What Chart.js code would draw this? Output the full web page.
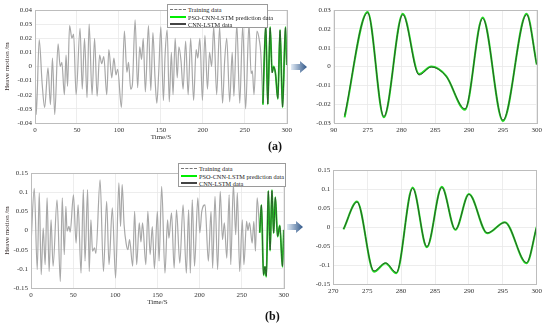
<!DOCTYPE html>
<html>
<head>
<meta charset="utf-8">
<script src="https://cdn.jsdelivr.net/npm/chart.js@4/dist/chart.umd.min.js"></script>
<style>
  html, body { margin: 0; padding: 0; background: #fff; }
  #wrap { position: relative; width: 550px; height: 325px; overflow: hidden; font-family: 'Liberation Serif', 'Times New Roman', serif; }
  canvas { position: absolute; }
  .legend { position: absolute; background: #fff; border: 1px solid #9a9a9a; box-sizing: border-box; font-size: 6.3px; color: #222; }
  .legend .row { position: absolute; left: 0; right: 0; height: 7px; line-height: 7px; white-space: nowrap; }
  .legend .smp { position: absolute; top: 3px; }
  .legend .txt { position: absolute; top: 0; }
  .cap { position: absolute; font-weight: bold; font-size: 12px; color: #111; }
  svg { position: absolute; }
</style>
</head>
<body>
<div id="wrap">
  <canvas id="cAL" width="295" height="145" style="left:0;top:0"></canvas>
  <canvas id="cAR" width="250" height="145" style="left:295px;top:0"></canvas>
  <canvas id="cBL" width="292" height="150" style="left:0;top:160px"></canvas>
  <canvas id="cBR" width="250" height="150" style="left:295px;top:160px"></canvas>

  <div class="legend" style="left:167px;top:4px;width:101px;height:24px">
    <div class="row" style="top:1px"><span class="smp" style="left:2px;width:16px;border-top:1px dashed #777"></span><span class="txt" style="left:20px">Training data</span></div>
    <div class="row" style="top:8.5px"><span class="smp" style="left:2px;width:16px;top:2px;height:2.5px;background:#00ee00"></span><span class="txt" style="left:20px">PSO-CNN-LSTM prediction data</span></div>
    <div class="row" style="top:16px"><span class="smp" style="left:2px;width:16px;top:2px;height:2px;background:#444"></span><span class="txt" style="left:20px">CNN-LSTM data</span></div>
  </div>
  <div class="legend" style="left:178px;top:163px;width:108px;height:24px">
    <div class="row" style="top:1px"><span class="smp" style="left:2px;width:16px;border-top:1px dashed #777"></span><span class="txt" style="left:20px">Training data</span></div>
    <div class="row" style="top:8.5px"><span class="smp" style="left:2px;width:16px;top:2px;height:2.5px;background:#00ee00"></span><span class="txt" style="left:20px">PSO-CNN-LSTM prediction data</span></div>
    <div class="row" style="top:16px"><span class="smp" style="left:2px;width:16px;top:2px;height:2px;background:#444"></span><span class="txt" style="left:20px">CNN-LSTM data</span></div>
  </div>

  <svg width="20" height="16" style="left:290px;top:59px">
    <defs><linearGradient id="ga" x1="0" x2="1" y1="0" y2="0"><stop offset="0" stop-color="#e3ecf6"/><stop offset="1" stop-color="#2f5688"/></linearGradient></defs>
    <path d="M1 5 H10 V2 L17 8 L10 14 V11 H1 Z" fill="url(#ga)"/>
  </svg>
  <svg width="20" height="16" style="left:286px;top:219px">
    <defs><linearGradient id="gb" x1="0" x2="1" y1="0" y2="0"><stop offset="0" stop-color="#e3ecf6"/><stop offset="1" stop-color="#2f5688"/></linearGradient></defs>
    <path d="M1 5 H10 V2 L17 8 L10 14 V11 H1 Z" fill="url(#gb)"/>
  </svg>

  <div class="cap" style="left:268px;top:139px">(a)</div>
  <div class="cap" style="left:265px;top:309px">(b)</div>
</div>
<script>
// ---------- (a) data ----------
const trainA_t = [0,1.5,5,8.5,11.5,15.5,18.4,20.8,23.5,27.5,30,32,35,37,38.8,41.2,44,46,49,53.7,56.3,59,62,64.5,68,71,74,77,79.5,82,85.5,88,91.5,94,96.5,98.5,103,106.5,109.5,111.5,114,116,119.3,122.3,124.8,127,129,131.5,135.2,138,140.5,143,145.2,147.5,150,153,155,157.5,160,162.5,164.5,167,169.5,171.5,174,176.5,179.5,182.5,185.5,189,192,194,196.5,199.5,202.5,205.5,208,210.5,213,216.5,220,223.5,226,228.5,232,235,237,240.5,244,247.5,251,255,257.5,259,261,264.5,267.5,269,271.6];
const trainA_v = [0,-0.034,0.019,-0.012,-0.029,-0.001,-0.027,0.006,-0.034,0.016,0.0,0.003,-0.02,0.008,-0.014,0.029,0.02,0.023,-0.02,0.027,-0.016,0.02,-0.022,0.03,-0.02,0.02,-0.021,0.008,0.002,0.007,-0.02,0.012,-0.008,0.006,-0.006,-0.002,-0.029,0.025,-0.004,0.003,-0.016,-0.013,0.033,-0.015,0.014,0.005,0.02,-0.018,0.029,-0.017,0.024,-0.008,-0.026,-0.003,0.028,-0.024,0.008,0.026,-0.025,0.01,-0.02,0.02,-0.008,0.014,0.004,-0.016,0.018,-0.02,0.02,-0.024,0.012,0.006,0.02,-0.024,0.022,-0.016,0.01,0.0,0.028,-0.02,0.028,-0.026,0.004,0.02,-0.025,0.01,-0.021,0.03,-0.026,0.029,-0.03,0.03,-0.005,-0.003,-0.02,0.025,0.018,0.01,-0.027];
const predA_t = [271.6,275.0,277.4,280.2,282.6,284.4,286.6,289.4,292.0,295.0,298.5,300];
const predA_v = [-0.027,0.029,-0.027,0.028,-0.004,0.0,-0.005,-0.023,0.026,-0.029,0.028,0.001];
const cnnA_v  = [-0.026,0.0285,-0.0265,0.0275,-0.0045,-0.0003,-0.0052,-0.0225,0.0255,-0.0285,0.0275,0.001];

// ---------- (b) data ----------
const trainB_t = [0,3.9,7.4,9.8,12.1,14.5,16.8,19.1,21.5,23.8,26.2,30.9,34.8,37.1,39.5,41.4,42.8,45,46.5,50.4,53.5,55.9,59.4,62.1,64.1,67.2,69.1,71.1,73,75.5,77,82,86,89.8,92.6,96.5,100.4,104.3,106.3,108.2,110.5,113,115,117,120.7,123,125.4,128.5,130.5,132.4,136.3,138.7,141.4,144,146.5,150,152,155.1,159,162.1,163.7,166.8,169.9,172.7,176.6,180.5,184.4,187.1,189.1,191.4,194.1,198,200.4,202.7,206.6,210.5,213.7,215.6,218.4,221.5,224.6,227.3,229.5,232.4,235.2,237.1,240.2,243,244.9,247.7,250.8,252.7,255.9,257.5,259.4,262.5,264.5,266.4,268.4,271.5];
const trainB_v = [-0.037,0.11,-0.102,0.098,-0.115,0.006,-0.089,0.085,-0.107,0.028,-0.093,0.08,-0.133,0.085,-0.063,0.063,-0.002,0.011,-0.004,0.093,-0.033,0.067,-0.111,0.107,-0.08,0.107,-0.107,0.028,-0.054,-0.045,-0.06,0.132,-0.107,0.076,-0.089,0.059,-0.124,0.124,0.011,0.12,0.015,-0.035,-0.05,-0.024,-0.093,0.05,-0.089,0.02,-0.03,0.02,-0.089,0.05,-0.063,0.01,-0.1,0.05,-0.08,0.115,-0.111,0.028,-0.02,0.046,-0.098,0.054,-0.085,0.067,-0.111,0.054,-0.111,0.08,-0.093,0.085,-0.006,0.05,0.067,-0.08,0.05,-0.098,0.089,-0.102,0.102,-0.024,0.02,-0.072,0.093,-0.089,0.12,-0.011,0.098,-0.107,0.028,-0.089,0.024,0.0,0.02,-0.033,0.024,-0.054,0.085,-0.006];
const predB_t = [271.5,273.5,276,277.7,279.3,281.7,283.8,286,288,290,292.7,295.3,298.5,300];
const predB_v = [-0.006,0.067,-0.117,-0.095,-0.121,0.104,-0.053,0.106,-0.007,0.087,-0.016,0.013,-0.095,0.001];
const cnnB_v  = [-0.005,0.066,-0.115,-0.094,-0.119,0.102,-0.051,0.104,-0.006,0.086,-0.015,0.012,-0.093,0.002];

// ---------- tick labels ----------
const xTicksLeft = ['0','50','100','150','200','250','300'];
const xTicksRight = ['90','275','280','285','290','295','300'];
const xTicksRightB = ['270','275','280','285','290','295','300'];

const pts = (t, v) => t.map((x, i) => ({x: x, y: v[i]}));
const FONT = "'Liberation Serif', 'Times New Roman', serif";

const frame = {
  id: 'frame',
  afterDraw(chart) {
    const a = chart.chartArea, c = chart.ctx;
    c.save(); c.strokeStyle = '#bdbdbd'; c.lineWidth = 1;
    c.strokeRect(Math.round(a.left) + 0.5, Math.round(a.top) + 0.5, Math.round(a.right - a.left), Math.round(a.bottom - a.top));
    c.restore();
  }
};

function make(id, o) {
  const ds = [];
  if (o.train) ds.push({label: 'Training data', data: pts(o.train[0], o.train[1]), borderColor: '#a8a8a8', borderWidth: 1.2, order: 2});
  ds.push({label: 'PSO-CNN-LSTM prediction data', data: pts(o.pred[0], o.pred[1]), borderColor: '#22dd22', borderWidth: o.gw, order: 1});
  ds.push({label: 'CNN-LSTM data', data: pts(o.pred[0], o.cnn), borderColor: '#2f4f2f', borderWidth: o.dw, order: 0});
  ds.forEach(d => { d.pointRadius = 0; d.fill = false; d.cubicInterpolationMode = 'monotone'; });
  new Chart(document.getElementById(id), {
    type: 'line',
    data: {datasets: ds},
    plugins: [frame],
    options: {
      responsive: false, animation: false, devicePixelRatio: 1,
      layout: {padding: {top: o.pt, right: o.pr, left: 0, bottom: 0}},
      plugins: {legend: {display: false}, tooltip: {enabled: false}},
      scales: {
        x: {
          type: 'linear', min: o.xmin, max: o.xmax,
          ticks: {stepSize: o.xstep, maxRotation: 0, autoSkip: false, padding: 3, color: '#333', font: {family: FONT, size: 7},
                  callback: (v) => o.xl[Math.round((v - o.xmin) / o.xstep)]},
          grid: {color: '#e8e8e8', drawTicks: false, lineWidth: 0.8},
          border: {display: false},
          title: {display: !!o.xt, text: 'Time/S', color: '#333', font: {family: FONT, size: 7}, padding: {top: 0, bottom: o.xtp}},
          afterFit: (s) => { s.height = o.xh; }
        },
        y: {
          min: o.ymin, max: o.ymax,
          ticks: {stepSize: o.ystep, autoSkip: false, padding: 3, color: '#333', font: {family: FONT, size: 7},
                  callback: (v) => String(+v.toFixed(3))},
          grid: {color: '#e8e8e8', drawTicks: false, lineWidth: 0.8},
          border: {display: false},
          title: {display: !!o.yt, text: 'Heave motion /m', color: '#3a2f2f', font: {family: FONT, size: 7}, padding: {top: 3, bottom: 0}},
          afterFit: (s) => { s.width = o.yw; }
        }
      }
    }
  });
}

make('cAL', {train: [trainA_t, trainA_v], pred: [predA_t, predA_v], cnn: cnnA_v, gw: 1.8, dw: 0.9,
  xmin: 0, xmax: 300, xstep: 50, xl: xTicksLeft, ymin: -0.04, ymax: 0.04, ystep: 0.01,
  pt: 10, pr: 5, xh: 22, yw: 35, xt: true, xtp: 4, yt: true});
make('cAR', {pred: [predA_t, predA_v], cnn: cnnA_v, gw: 2, dw: 1,
  xmin: 270, xmax: 300, xstep: 5, xl: xTicksRight, ymin: -0.03, ymax: 0.03, ystep: 0.01,
  pt: 10, pr: 5, xh: 22, yw: 38.8});
make('cBL', {train: [trainB_t, trainB_v], pred: [predB_t, predB_v], cnn: cnnB_v, gw: 1.8, dw: 0.9,
  xmin: 0, xmax: 300, xstep: 50, xl: xTicksLeft, ymin: -0.15, ymax: 0.15, ystep: 0.05,
  pt: 13, pr: 5, xh: 22, yw: 31, xt: true, xtp: 4, yt: true});
make('cBR', {pred: [predB_t, predB_v], cnn: cnnB_v, gw: 2, dw: 1,
  xmin: 270, xmax: 300, xstep: 5, xl: xTicksRightB, ymin: -0.15, ymax: 0.15, ystep: 0.05,
  pt: 10, pr: 6.7, xh: 25.7, yw: 38.3});
</script>
</body>
</html>
